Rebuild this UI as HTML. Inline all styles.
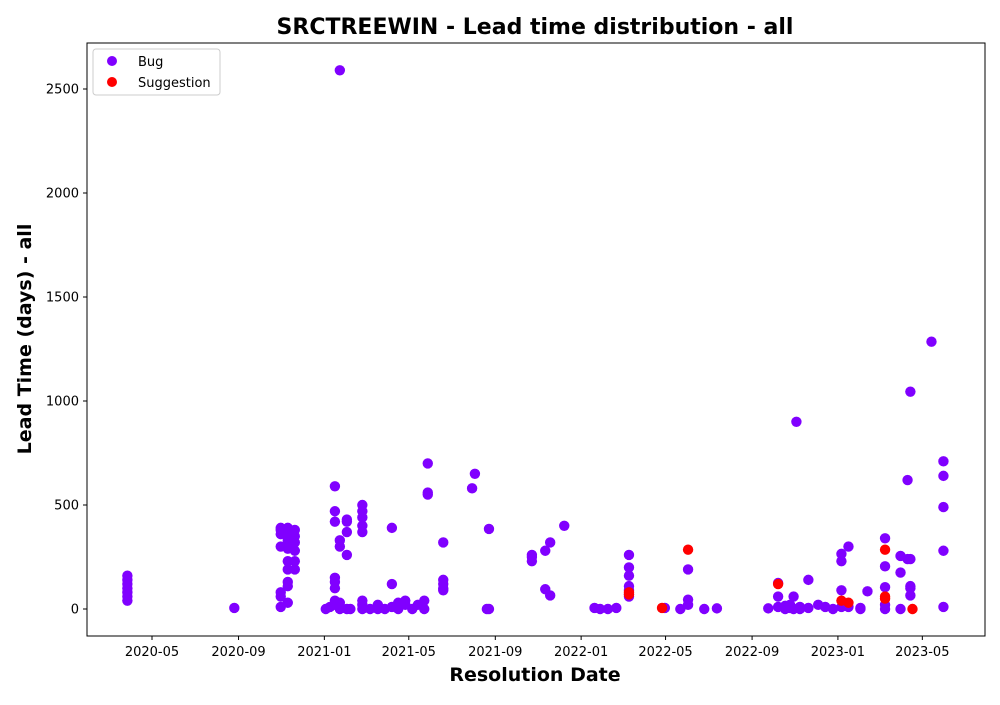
<!DOCTYPE html>
<html><head><meta charset="utf-8">
<style>
html,body{margin:0;padding:0;background:#fff;}
svg text{font-family:"DejaVu Sans","Liberation Sans",sans-serif;}
</style></head>
<body>
<svg id="chart" width="1000" height="700" viewBox="0 0 1000 700" xmlns="http://www.w3.org/2000/svg">
<rect width="1000" height="700" fill="#fff"/>
<text x="535" y="34" text-anchor="middle" font-size="22" font-weight="bold">SRCTREEWIN - Lead time distribution - all</text>
<text x="535" y="681" text-anchor="middle" font-size="19" font-weight="bold">Resolution Date</text>
<text transform="translate(31,339) rotate(-90)" text-anchor="middle" font-size="19" font-weight="bold">Lead Time (days) - all</text>
<g id="grid"></g>
<g id="marks"></g>
<rect x="87" y="43" width="898" height="593" fill="none" stroke="#000" stroke-width="1"/>
<g>
<rect x="93" y="49" width="127" height="46" fill="#fff" stroke="#ccc" rx="3"/>
<circle cx="112" cy="61" r="5" fill="#8000ff"/>
<text x="138" y="66" font-size="13">Bug</text>
<circle cx="112" cy="82" r="5" fill="#ff0000"/>
<text x="138" y="87" font-size="13">Suggestion</text>
</g>
</svg>
<script>
const bugDates = [
"2020-03-27","2020-03-27","2020-03-27","2020-03-27","2020-03-27","2020-03-27","2020-03-27",
"2020-08-26",
"2020-10-31","2020-10-31","2020-10-31","2020-10-31","2020-10-31","2020-10-31","2020-10-31",
"2020-11-10","2020-11-10","2020-11-10","2020-11-10","2020-11-10","2020-11-10","2020-11-10","2020-11-10","2020-11-10","2020-11-10",
"2020-11-20","2020-11-20","2020-11-20","2020-11-20","2020-11-20","2020-11-20",
"2021-01-03","2021-01-09","2021-01-16","2021-01-16","2021-01-16","2021-01-16","2021-01-16","2021-01-16","2021-01-16","2021-01-16",
"2021-01-23","2021-01-23","2021-01-23","2021-01-23","2021-01-23","2021-01-23",
"2021-02-02","2021-02-02","2021-02-02","2021-02-02","2021-02-02","2021-02-07",
"2021-02-24","2021-02-24","2021-02-24","2021-02-24","2021-02-24","2021-02-24","2021-02-24","2021-02-24",
"2021-03-07","2021-03-18","2021-03-18","2021-03-28","2021-04-07","2021-04-07","2021-04-07","2021-04-16","2021-04-16","2021-04-26","2021-04-26",
"2021-05-06","2021-05-14","2021-05-23","2021-05-23",
"2021-05-28","2021-05-28","2021-05-28",
"2021-06-19","2021-06-19","2021-06-19","2021-06-19","2021-06-19",
"2021-07-30","2021-08-03","2021-08-20","2021-08-23","2021-08-23",
"2021-10-23","2021-10-23","2021-10-23","2021-11-11","2021-11-11","2021-11-18","2021-11-18","2021-12-08",
"2022-01-20","2022-01-28","2022-02-08","2022-02-20",
"2022-03-10","2022-03-10","2022-03-10","2022-03-10","2022-03-10","2022-03-10","2022-03-10",
"2022-04-30","2022-05-22","2022-06-02","2022-06-02","2022-06-02","2022-06-25","2022-07-13",
"2022-09-24","2022-10-08","2022-10-08","2022-10-08","2022-10-18","2022-10-18","2022-10-25","2022-10-25","2022-10-30","2022-10-30","2022-11-03","2022-11-08","2022-11-08","2022-11-20","2022-11-20",
"2022-12-04","2022-12-14","2022-12-25",
"2023-01-06","2023-01-06","2023-01-06","2023-01-06","2023-01-16","2023-01-16",
"2023-02-02","2023-02-02","2023-02-12",
"2023-03-09","2023-03-09","2023-03-09","2023-03-09","2023-03-09",
"2023-03-31","2023-03-31","2023-03-31","2023-04-10","2023-04-10",
"2023-04-14","2023-04-14","2023-04-14","2023-04-14","2023-04-14",
"2023-05-14",
"2023-05-31","2023-05-31","2023-05-31","2023-05-31","2023-05-31"
];
const bugValues = [
40,60,80,100,120,140,160,
5,
390,380,360,300,80,60,10,
390,370,350,330,290,230,190,130,110,30,
380,350,320,280,230,190,
0,10,590,470,420,150,130,100,40,20,
2590,330,300,30,10,0,
430,420,370,260,0,0,
500,470,440,400,370,40,20,0,
0,0,20,0,390,120,10,0,30,20,40,
0,20,0,40,
700,560,550,
320,140,120,100,90,
580,650,0,385,0,
260,250,230,280,95,320,65,400,
5,0,0,5,
260,200,160,110,90,70,60,
5,0,190,45,20,0,3,
3,125,60,10,0,15,5,20,60,0,900,10,0,140,5,
20,10,0,
265,230,90,10,300,10,
5,0,85,
340,205,105,20,0,
255,175,0,620,240,
1045,240,110,100,65,
1285,
710,640,490,280,10
];
const suggestionDates = ["2022-03-10","2022-03-10","2022-04-26","2022-06-02","2022-10-08","2023-01-06","2023-01-16","2023-03-09","2023-03-09","2023-03-09","2023-04-17"];
const suggestionValues = [80,70,5,285,120,40,30,285,60,50,0];
const yTicks = [0,500,1000,1500,2000,2500];
const xTicks = ["2020-05","2020-09","2021-01","2021-05","2021-09","2022-01","2022-05","2022-09","2023-01","2023-05"];

const NS = "http://www.w3.org/2000/svg";
const origin = Date.UTC(2020,4,1);
function dayOf(s){const p=s.split("-").map(Number);return (Date.UTC(p[0],p[1]-1,p[2]||1)-origin)/86400000;}
function xScale(s){return 152 + dayOf(s)*0.7035;}
function yScale(v){return 609 - v*0.208;}
const grid = document.getElementById("grid");
const marks = document.getElementById("marks");
function mk(tag, attrs, parent){const e=document.createElementNS(NS,tag);for(const k in attrs)e.setAttribute(k,attrs[k]);parent.appendChild(e);return e;}

yTicks.forEach(v=>{
  const y=yScale(v);
  const t=mk("line",{x1:83,x2:87,y1:y,y2:y,stroke:"#000"},grid);
  
  
  const l=mk("text",{x:79,y:y+4.5,"text-anchor":"end","font-size":"13"},grid);
  l.textContent=v;
  
  
});
xTicks.forEach(s=>{
  const x=xScale(s);
  const t=mk("line",{x1:x,x2:x,y1:636,y2:640,stroke:"#000"},grid);
  
  
  const l=mk("text",{x:x,y:656,"text-anchor":"middle","font-size":"13"},grid);
  l.textContent=s;
  
  
});
bugDates.forEach((d,i)=>{
  const c=mk("circle",{cx:xScale(d),cy:yScale(bugValues[i]),r:5.2,fill:"#8000ff"},marks);
  
  
});
suggestionDates.forEach((d,i)=>{
  const c=mk("circle",{cx:xScale(d),cy:yScale(suggestionValues[i]),r:5.2,fill:"#ff0000"},marks);
  
  
});
</script>
</body></html>
